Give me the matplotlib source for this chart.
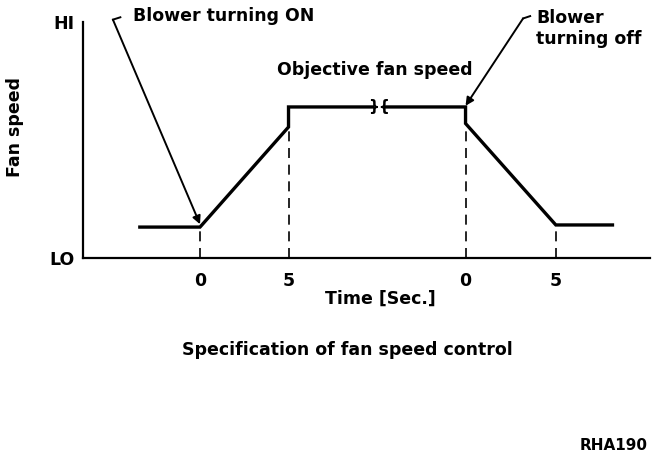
import matplotlib
matplotlib.use("Agg")
import matplotlib.pyplot as plt

# ---- data ----
on_time = [-3.4, 0, 5, 5, 9.75]
on_speed = [0.131, 0.131, 0.555, 0.64, 0.64]
off_time = [10.45, 15, 15, 20.1, 23.3]
off_speed = [0.64, 0.64, 0.57, 0.14, 0.14]
tick_pos = [0, 5, 15, 20.1]
tick_labels = ["0", "5", "0", "5"]
dash_time = [0, 5, 15, 20.1]
dash_top = [0.131, 0.555, 0.57, 0.14]
y_ticks = [0, 1]
y_labels = ["LO", "HI"]

W, H = 672, 462
fig = plt.figure(figsize=(W / 100, H / 100), dpi=100)
FONT = "DejaVu Sans"
plt.rcParams["font.family"] = FONT
FS = 12.5

ax_left, ax_right, ax_top, ax_bottom = 83, 650, 22, 258
ax = fig.add_axes([ax_left / W, 1 - ax_bottom / H,
                   (ax_right - ax_left) / W, (ax_bottom - ax_top) / H])
ax.set_xlim(-6.61, 25.42)
ax.set_ylim(0, 1)
for s in ("top", "right"):
    ax.spines[s].set_visible(False)
for s in ("left", "bottom"):
    ax.spines[s].set_linewidth(1.6)
ax.set_facecolor("white")

ax.set_xticks(tick_pos)
ax.set_xticklabels(tick_labels, fontsize=FS, fontweight="bold")
ax.set_yticks(y_ticks)
ax.set_yticklabels(y_labels, fontsize=FS, fontweight="bold")
ax.tick_params(axis="x", length=0, pad=10)
ax.tick_params(axis="y", length=0, pad=6)

ax.plot(on_time, on_speed, color="black", lw=2.4, solid_joinstyle="miter",
        clip_on=False)
ax.plot(off_time, off_speed, color="black", lw=2.4, solid_joinstyle="miter",
        clip_on=False)
for t, top in zip(dash_time, dash_top):
    ax.plot([t, t], [0, top], color="black", lw=1.2, ls=(0, (6, 4)))

# break symbol on the top line
ax.text((on_time[-1] + off_time[0]) / 2, on_speed[-1], "}{", ha="center",
        va="center", fontsize=11, fontweight="bold")

# annotations
ax.annotate("", xy=(on_time[1], on_speed[1] + 0.012), xytext=(-4.92, 1.01),
            arrowprops=dict(arrowstyle="-|>", color="black", lw=1.4,
                            mutation_scale=12, shrinkA=0, shrinkB=0),
            annotation_clip=False)
ax.plot([-4.92, -4.5], [1.01, 1.02], color="black", lw=1.4, clip_on=False)
ax.text(-3.8, 1.025, "Blower turning ON", ha="left", va="center",
        fontsize=FS, fontweight="bold")

ax.annotate("", xy=(off_time[1], off_speed[1] + 0.005), xytext=(18.25, 1.015),
            arrowprops=dict(arrowstyle="-|>", color="black", lw=1.4,
                            mutation_scale=12, shrinkA=0, shrinkB=0),
            annotation_clip=False)
ax.plot([18.25, 18.65], [1.015, 1.025], color="black", lw=1.4, clip_on=False)
ax.text(19.0, 1.055, "Blower\nturning off", ha="left", va="top",
        fontsize=FS, fontweight="bold", linespacing=1.2)

ax.text(9.9, 0.797, "Objective fan speed", ha="center", va="center",
        fontsize=FS, fontweight="bold")

fig.text(15 / W, 1 - 127 / H, "Fan speed", rotation=90, ha="center",
         va="center", fontsize=FS, fontweight="bold")
fig.text(380 / W, 1 - 299 / H, "Time [Sec.]", ha="center", va="center",
         fontsize=FS, fontweight="bold")
fig.text(347 / W, 1 - 350 / H, "Specification of fan speed control",
         ha="center", va="center", fontsize=FS, fontweight="bold")
fig.text(648 / W, 1 - 445 / H, "RHA190", ha="right", va="center",
         fontsize=11, fontweight="bold")

fig.savefig("out.png", dpi=100, facecolor="white")
